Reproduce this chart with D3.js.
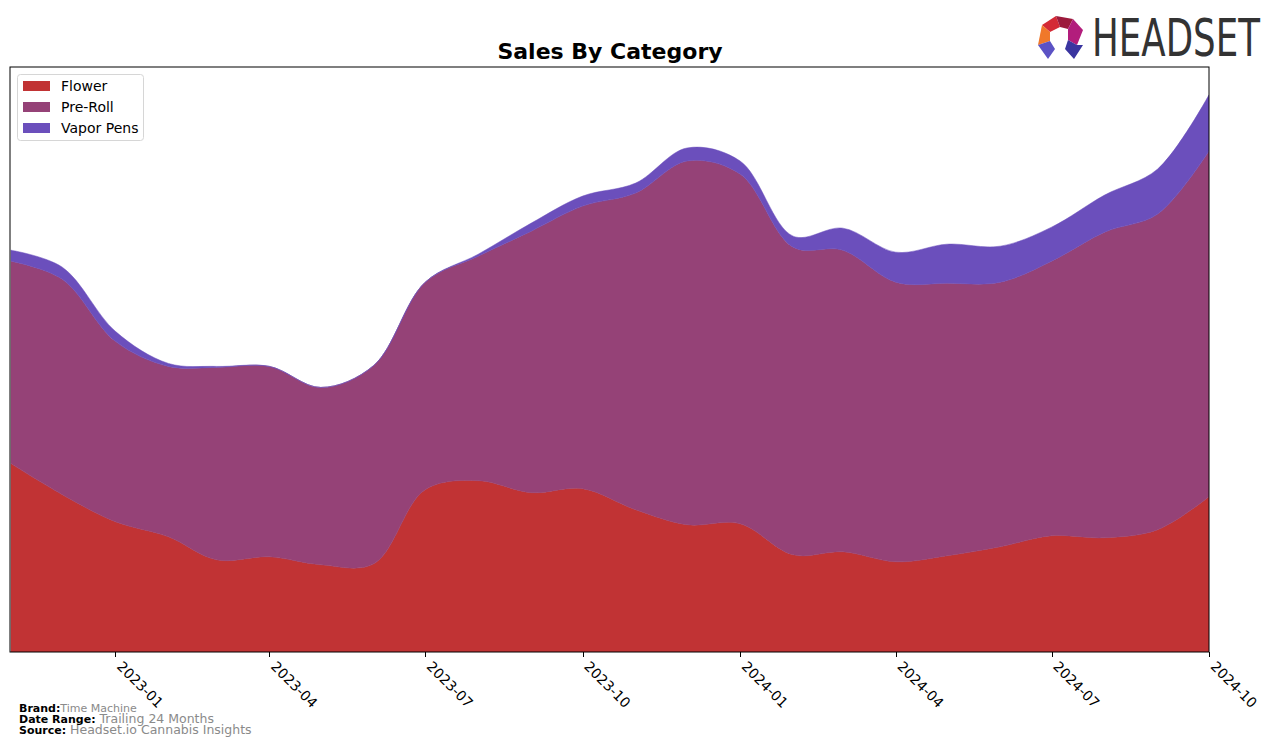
<!DOCTYPE html>
<html>
<head>
<meta charset="utf-8">
<script src="https://cdn.jsdelivr.net/npm/d3@7"></script>
<style>
  html, body { margin: 0; padding: 0; background: #ffffff; }
  svg { display: block; font-family: "DejaVu Sans", sans-serif; }
</style>
</head>
<body>
<svg id="chart" width="1276" height="747"></svg>
<script>
// ---- Data (relative sales units) ----
const months = ["2022-11","2022-12","2023-01","2023-02","2023-03","2023-04","2023-05","2023-06",
  "2023-07","2023-08","2023-09","2023-10","2023-11","2023-12","2024-01","2024-02",
  "2024-03","2024-04","2024-05","2024-06","2024-07","2024-08","2024-09","2024-10"];
const flower    = [188,157,130,115, 92, 95, 87, 88,162,171,159,163,142,127,128, 97,100, 90, 96,105,116,114,122,155];
const preRoll   = [202,215,180,170,192,190,177,198,207,224,261,282,316,363,349,307,301,279,272,264,274,305,315,345];
const vaporPens = [ 11, 12, 10,  3,  1,  0,  0,  0,  0,  2,  8, 10, 10, 13, 13, 11, 22, 30, 39, 36, 34, 37, 45, 56];
const categories = ["Flower","Pre-Roll","Vapor Pens"];
const colors = ["#c13334","#954277","#6b4fbc"];
const tickLabels = ["2023-01","2023-04","2023-07","2023-10","2024-01","2024-04","2024-07","2024-10"];
const brand = "Time Machine";
const dateRange = "Trailing 24 Months";
const source = "Headset.io Cannabis Insights";

(function () {
const parse = d3.timeParse("%Y-%m");
const rows = months.map((m, i) => ({date: parse(m), "Flower": flower[i], "Pre-Roll": preRoll[i], "Vapor Pens": vaporPens[i]}));

const svg = d3.select("#chart");
const pL = 10, pR = 1209, pT = 67, pB = 652;

const x = d3.scaleTime().domain([rows[0].date, rows[rows.length-1].date]).range([pL + 1, pR]);
const stack = d3.stack().keys(categories);
const series = stack(rows);
const maxTotal = d3.max(series[series.length-1], d => d[1]);
const y = d3.scaleLinear().domain([0, maxTotal * 1.05]).range([pB, pT]);

svg.append("defs").append("clipPath").attr("id", "clip")
  .append("rect").attr("x", pL).attr("y", pT).attr("width", pR-pL).attr("height", pB-pT);

const area = d3.area()
  .x(d => x(d.data.date))
  .y0(d => y(d[0]))
  .y1(d => y(d[1]))
  .curve(d3.curveCatmullRom.alpha(0.5));

svg.append("g").attr("clip-path", "url(#clip)")
  .selectAll("path").data(series).join("path")
  .attr("d", area)
  .attr("fill", (d, i) => colors[i])
  .attr("stroke", (d, i) => colors[i])
  .attr("stroke-width", 0.5);

// frame
svg.append("rect").attr("x", pL).attr("y", pT).attr("width", pR-pL).attr("height", pB-pT)
  .attr("fill", "none").attr("stroke", "#000").attr("stroke-width", 1);

// x axis ticks
const tickDates = tickLabels.map(parse);
const axisG = svg.append("g");
axisG.selectAll("line").data(tickDates).join("line")
  .attr("x1", d => Math.round(x(d)) + 0.5).attr("x2", d => Math.round(x(d)) + 0.5)
  .attr("y1", pB).attr("y2", pB + 5)
  .attr("stroke", "#000").attr("stroke-width", 1);
axisG.selectAll("text").data(tickDates).join("text")
  .attr("transform", d => `translate(${x(d) + 8},${pB + 8}) rotate(45)`)
  .attr("text-anchor", "start")
  .attr("dominant-baseline", "hanging")
  .attr("font-size", 14)
  .attr("fill", "#000")
  .text((d, i) => tickLabels[i]);

// title
svg.append("text").attr("x", 610).attr("y", 59).attr("text-anchor", "middle")
  .attr("font-size", 22).attr("font-weight", "bold").attr("fill", "#000")
  .text("Sales By Category");

// legend
const lg = svg.append("g");
lg.append("rect").attr("x", 17.5).attr("y", 74.5).attr("width", 126).attr("height", 66)
  .attr("rx", 3).attr("fill", "#fff").attr("fill-opacity", 0.8).attr("stroke", "#d6d6d6");
categories.forEach((c, i) => {
  const yy = 86 + i * 21;
  lg.append("rect").attr("x", 23).attr("y", yy - 5).attr("width", 27).attr("height", 10).attr("fill", colors[i]);
  lg.append("text").attr("x", 61).attr("y", yy).attr("dominant-baseline", "central")
    .attr("font-size", 14).attr("fill", "#000").text(c);
});

// footer
const foot = svg.append("g");
const footRows = [["Brand:", brand, 11, 712], ["Date Range:", dateRange, 12.5, 723], ["Source:", source, 12.5, 734]];
footRows.forEach(r => {
  const t = foot.append("text").attr("x", 19).attr("y", r[3]).attr("font-size", 11);
  t.append("tspan").attr("font-weight", "bold").attr("fill", "#000").text(r[0]);
  t.append("tspan").attr("fill", "#8a8a8a").attr("font-size", r[2]).text((r[0] === "Brand:" ? "" : " ") + r[1]);
});

// logo
const logo = svg.append("g");
const polys = [
  {pts: [[1042,25],[1056,16],[1060,27],[1050,32]], c: "#d42a36"},
  {pts: [[1056,16],[1073,19],[1068,29],[1060,27]], c: "#9c1a3c"},
  {pts: [[1073,19],[1083,30],[1077,45],[1068,40],[1068,29]], c: "#b21d7c"},
  {pts: [[1042,25],[1050,32],[1050,41],[1038,45]], c: "#f0782a"},
  {pts: [[1038,45],[1050,41],[1055,49],[1048,59]], c: "#5b52c4"},
  {pts: [[1068,40],[1077,45],[1083,45],[1074,59],[1065,49]], c: "#3a35a0"}
];
polys.forEach(p => logo.append("polygon").attr("points", p.pts.map(q => q.join(",")).join(" ")).attr("fill", p.c));
const ht = logo.append("text").attr("x", 0).attr("y", 0).attr("font-size", 51)
  .attr("font-family", "'DejaVu Sans Condensed', 'DejaVu Sans', sans-serif")
  .attr("fill", "#333")
  .text("HEADSET");
const w = ht.node().getComputedTextLength();
ht.attr("transform", `translate(1092,56) scale(${168 / w},1)`);
})();
</script>
</body>
</html>
